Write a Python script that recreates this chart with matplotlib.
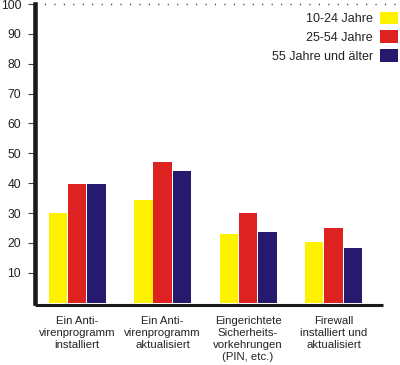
import numpy as np
import matplotlib
matplotlib.use("Agg")
import matplotlib.pyplot as plt

plt.rcParams['font.family'] = ['Liberation Sans', 'DejaVu Sans']

# data
categories = ['Ein Anti-\nvirenprogramm\ninstalliert',
              'Ein Anti-\nvirenprogramm\naktualisiert',
              'Eingerichtete\nSicherheits-\nvorkehrungen\n(PIN, etc.)',
              'Firewall\ninstalliert und\naktualisiert']
series_names = ['10-24 Jahre', '25-54 Jahre', '55 Jahre und älter']
age_10_24 = [30, 34.3, 23, 20.2]
age_25_54 = [39.6, 47, 30, 25]
age_55_plus = [39.6, 44.1, 23.8, 18.2]
colors = ['#FFF200', '#DE2221', '#261A6E']
yticks = [10, 20, 30, 40, 50, 60, 70, 80, 90, 100]

fig = plt.figure(figsize=(4.0, 3.65), dpi=100)
ax = fig.add_axes([0.0875, 0.171, 0.87, 0.818])

x = np.arange(len(categories))
width = 0.2165
offset = 0.226
for k, (vals, name) in enumerate(zip([age_10_24, age_25_54, age_55_plus], series_names)):
    ax.bar(x + (k - 1) * offset, vals, width, color=colors[k], label=name,
           edgecolor='none', zorder=2)

ax.set_xlim(-0.494, 3.579)
ax.set_ylim(0, 100)

# spines
for s in ['top', 'right']:
    ax.spines[s].set_visible(False)
ax.spines['left'].set_linewidth(3.3)
ax.spines['left'].set_color('#1a1a1a')
ax.spines['bottom'].set_linewidth(2.2)
ax.spines['bottom'].set_color('#1a1a1a')
ax.spines['bottom'].set_position(('outward', 1.5))
ax.spines['bottom'].set_capstyle('butt')

# dotted line at top
ax.axhline(100, xmin=0, xmax=1.05, color='#333333', linestyle=(0, (0.8, 6)),
           linewidth=1.0, clip_on=False, zorder=1)

ax.set_yticks(yticks)
ax.set_yticklabels([str(v) for v in yticks], fontsize=8.7, color='#222222')
ax.tick_params(axis='y', length=5, width=0.8, color='#444444', pad=5)

ax.set_xticks(x)
ax.set_xticklabels(categories, fontsize=8.2, color='#222222', linespacing=1.25)
ax.tick_params(axis='x', length=0, pad=8)

leg = ax.legend(loc='upper right', bbox_to_anchor=(398 / 400, 1 - 11.5 / 365),
                bbox_transform=fig.transFigure, frameon=False, markerfirst=False,
                fontsize=9, handlelength=1.44, handleheight=1.2,
                labelspacing=0.42, handletextpad=0.55, borderpad=0,
                borderaxespad=0)
for t in leg.get_texts():
    t.set_color('#222222')

fig.savefig('out.png', dpi=100)
